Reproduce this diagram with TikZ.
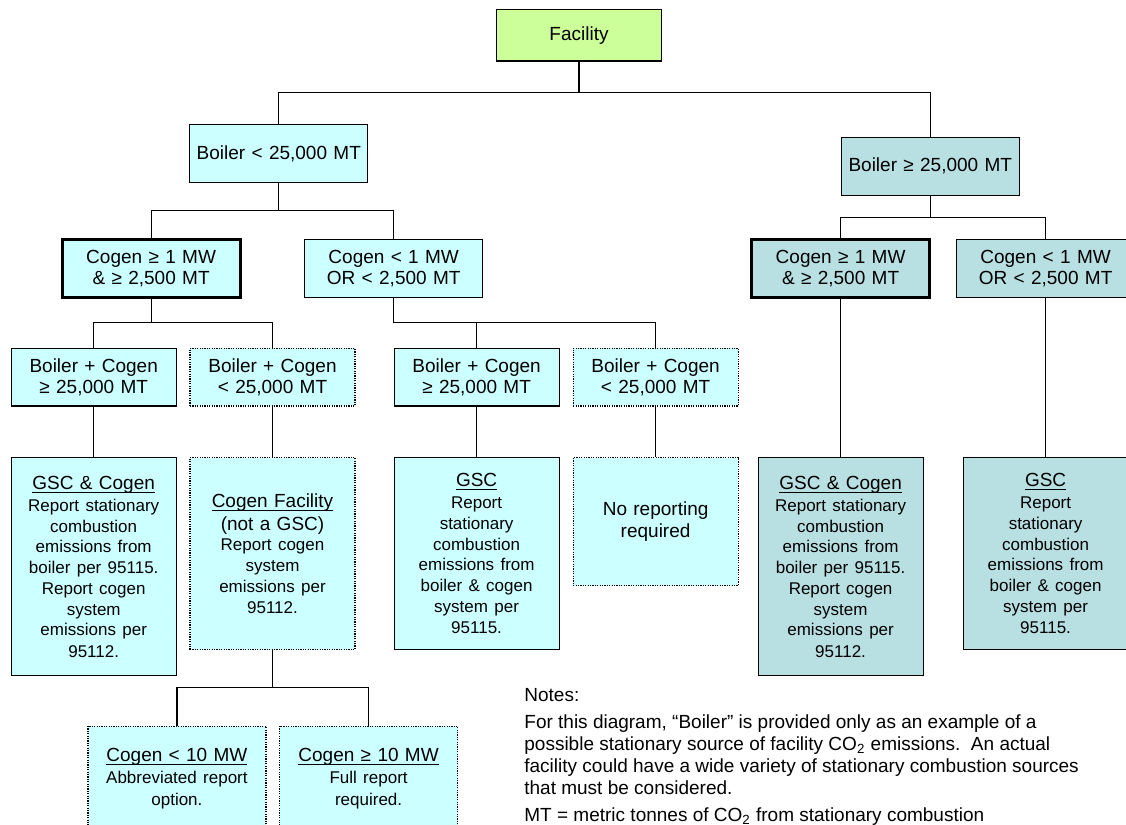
\documentclass[tikz,border=0pt]{standalone}
\usepackage{fontspec}
\setmainfont{Liberation Sans}
\usepackage{tikz}
\usepackage{xcolor}
\usetikzlibrary{positioning}
\usetikzlibrary{arrows,calc}

\definecolor{cyanbox}{HTML}{CCFFFF}
\definecolor{tealbox}{HTML}{B8DFE2}
\definecolor{limebox}{HTML}{CCFF99}

\newcommand{\corps}{\fontsize{8.5pt}{10.35pt}\selectfont}
\newcommand{\souligne}[1]{\underline{\raisebox{0pt}[\height][0pt]{#1}}}

\begin{document}
\begin{tikzpicture} [
  x = 0.5pt, y = -0.5pt,
  font = \fontsize{9.5pt}{10.7pt}\selectfont,
  boite/.style = {rectangle, draw = black, line width = 0.6pt, fill = cyanbox,
    text width = 76pt, align = center, inner sep = 2pt,
    minimum width = 82.5pt, minimum height = 28.8pt},
  boitelarge/.style = {boite, text width = 84pt, minimum width = 89pt},
  fort/.style = {line width = 1.5pt},
  pointille/.style = {dash pattern = on 0.6pt off 0.6pt},
  droite/.style = {fill = tealbox},
  line/.style = {draw, line width = 0.6pt},
]

\useasboundingbox (0,0) rectangle (1126,825);
\clip (0,0) rectangle (1126,825);

 \node [boite, fill = limebox, minimum height = 25.8pt] (fac) at (579,35.2) {Facility};

 \node [boitelarge] (bg) at (278.8,153.5) {Boiler < 25,000 MT};
 \node [boitelarge, droite] (bd) at (930.3,166.3) {Boiler ≥ 25,000 MT};

 \node [boitelarge, fort] (cg1) at (151.1,268.3) {Cogen ≥ 1 MW\\ \& ≥ 2,500 MT};
 \node [boitelarge] (cg2) at (393.7,268.3) {Cogen < 1 MW\\ OR < 2,500 MT};
 \node [boitelarge, droite, fort] (cd1) at (840.6,268.3) {Cogen ≥ 1 MW\\ \& ≥ 2,500 MT};
 \node [boitelarge, droite] (cd2) at (1045.6,268.3) {Cogen < 1 MW\\ OR < 2,500 MT};

 \node [boite] (n1) at (93.7,377.2) {Boiler + Cogen\\ ≥ 25,000 MT};
 \node [boite, pointille] (n2) at (272.5,377.2) {Boiler + Cogen\\ < 25,000 MT};
 \node [boite] (n3) at (476.6,377.2) {Boiler + Cogen\\ ≥ 25,000 MT};
 \node [boite, pointille] (n4) at (655.6,377.2) {Boiler + Cogen\\ < 25,000 MT};

 \node [boite, anchor = north, minimum height = 109pt] (r1) at (93.7,457)
   {\souligne{GSC \& Cogen}\\[0.8pt] \corps Report stationary\\ combustion\\ emissions from\\ boiler per 95115.\\ Report cogen\\ system\\ emissions per\\ 95112.};
 \node [boite, pointille, anchor = north, minimum height = 96pt] (r2) at (272.5,457)
   {\souligne{Cogen Facility}\\[0.8pt] (not a GSC)\\ \corps Report cogen\\ system\\ emissions per\\ 95112.};
 \node [boite, anchor = north, minimum height = 96pt] (r3) at (476.6,457)
   {\souligne{GSC}\\[0.8pt] \corps Report\\ stationary\\ combustion\\ emissions from\\ boiler \& cogen\\ system per\\ 95115.};
 \node [boite, pointille, anchor = north, minimum height = 64pt] (r4) at (655.6,457)
   {No reporting\\ required};
 \node [boite, droite, anchor = north, minimum height = 109pt] (r5) at (840.6,457)
   {\souligne{GSC \& Cogen}\\[0.8pt] \corps Report stationary\\ combustion\\ emissions from\\ boiler per 95115.\\ Report cogen\\ system\\ emissions per\\ 95112.};
 \node [boite, droite, anchor = north, minimum height = 96pt] (r6) at (1045.6,457)
   {\souligne{GSC}\\[0.8pt] \corps Report\\ stationary\\ combustion\\ emissions from\\ boiler \& cogen\\ system per\\ 95115.};

 \node [boitelarge, pointille, anchor = north, minimum height = 52.5pt] (s1) at (176.9,725.5)
   {\souligne{Cogen < 10 MW}\\[0.8pt] \corps Abbreviated report\\ option.};
 \node [boitelarge, pointille, anchor = north, minimum height = 52.5pt] (s2) at (368.6,725.5)
   {\souligne{Cogen ≥ 10 MW}\\[0.8pt] \corps Full report\\ required.};

 % notes
 \node [anchor = north west, align = left, inner sep = 0pt,
   font = \fontsize{9.5pt}{11pt}\selectfont] (notes) at (524,688)
   {Notes:\\[2.5pt]
    For this diagram, “Boiler” is provided only as an example of a\\
    possible stationary source of facility CO\textsubscript{2} emissions.\ \ An actual\\
    facility could have a wide variety of stationary combustion sources\\
    that must be considered.\\[2.5pt]
    MT = metric tonnes of CO\textsubscript{2} from stationary combustion};

 \coordinate (j0) at (579,92.5);
 \coordinate (j1) at (278.8,210.7);
 \coordinate (j2) at (930.3,217.5);
 \coordinate (j3) at (151.1,322.7);
 \coordinate (j4) at (393.7,322.7);
 \coordinate (j5) at (272.5,687.5);

 \begin{scope}[every path/.style=line]
\path (fac) -- (j0) ;
\path (j0) -| (bg) ;
\path (j0) -| (bd) ;
\path (bg) -- (j1) ;
\path (j1) -| (cg1) ;
\path (j1) -| (cg2) ;
\path (bd) -- (j2) ;
\path (j2) -| (cd1) ;
\path (j2) -| (cd2) ;
\path (cg1) -- (j3) ;
\path (j3) -| (n1) ;
\path (j3) -| (n2) ;
\path (cg2) -- (j4) ;
\path (j4) -| (n3) ;
\path (j4) -| (n4) ;
\path (n1) -- (r1) ;
\path (n2) -- (r2) ;
\path (n3) -- (r3) ;
\path (n4) -- (r4) ;
\path (cd1) -- (r5) ;
\path (cd2) -- (r6) ;
\path (r2) -- (j5) ;
\path (j5) -| (s1) ;
\path (j5) -| (s2) ;
\end{scope}

\end{tikzpicture}
\end{document}
